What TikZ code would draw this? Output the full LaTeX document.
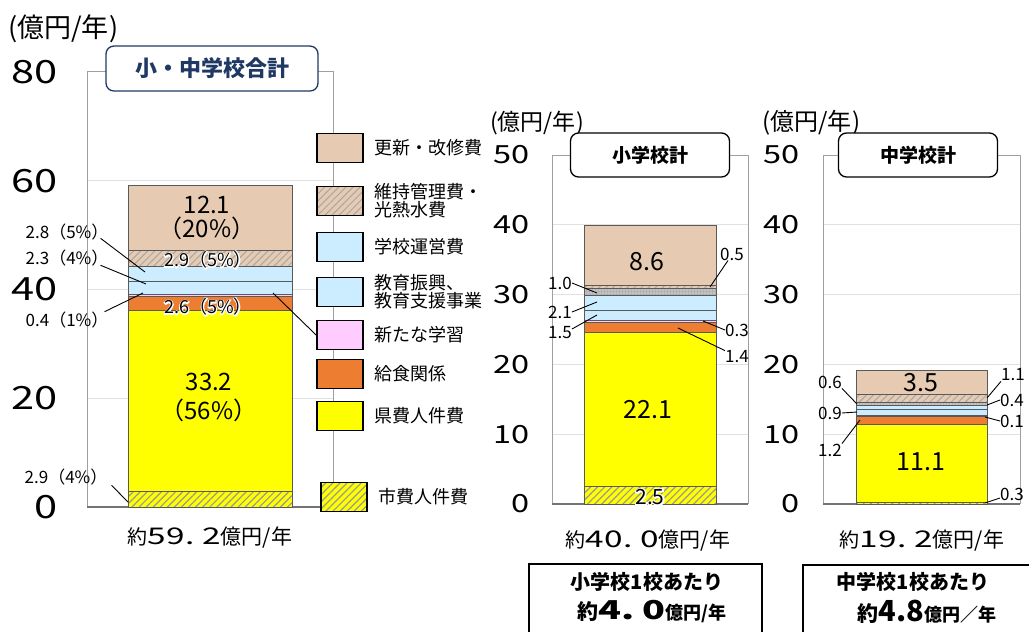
\documentclass[tikz,border=0pt]{standalone}
\usepackage{fontspec}
\setmainfont{Noto Sans CJK JP}
\newfontfamily\tickfont[FakeStretch=1.3]{Noto Sans CJK JP}
\newfontfamily\widefont[FakeStretch=1.45]{Noto Sans CJK JP}
\newfontfamily\halofont[FakeBold=12]{Noto Sans CJK JP}
\usetikzlibrary{positioning,patterns.meta}
\newcommand{\fsz}[1]{\fontsize{#1}{#1}\selectfont}
\newcommand{\halotxt}[1]{\leavevmode\rlap{\halofont\color{white}#1}#1}
\newcommand{\total}[3]{{\fsz{20}約}{\widefont\fsz{23}#1.\hspace{8pt}#2}{\fsz{21}#3}}
\newcommand{\unitlbl}{(億円/年\kern1pt)}
\definecolor{navyT}{RGB}{31,56,100}
\definecolor{tanC}{RGB}{230,202,178}
\definecolor{blueC}{RGB}{204,236,255}
\definecolor{pinkC}{RGB}{255,204,255}
\definecolor{orangeC}{RGB}{237,125,49}
\definecolor{yellowC}{RGB}{255,255,0}
\definecolor{frameC}{RGB}{160,160,160}
\definecolor{gridC}{RGB}{225,225,225}
\tikzset{
	hatchTan/.style={preaction={fill=tanC}, pattern={Lines[angle=45,distance=5pt,line width=1pt]}, pattern color=black!35},
	hatchYellow/.style={preaction={fill=yellowC}, pattern={Lines[angle=45,distance=5pt,line width=1.2pt]}, pattern color=black!40},
	dotGray/.style={preaction={fill=black!30}, pattern={Dots[distance=3pt,radius=0.6pt]}, pattern color=white},
	seg/.style={draw=black!65, line width=0.6pt},
	segTan/.style={seg, fill=tanC},
	segTanHatch/.style={seg, hatchTan},
	segGray/.style={seg, dotGray},
	segBlue/.style={seg, fill=blueC},
	segPink/.style={seg, fill=pinkC},
	segOrange/.style={seg, fill=orangeC},
	segYellow/.style={seg, fill=yellowC},
	segYellowHatch/.style={seg, hatchYellow},
	gridLine/.style={gridC, line width=0.8pt},
	frameLine/.style={frameC, line width=1pt},
	baseLine/.style={black!55, line width=1.2pt},
	tickBig/.style={font=\tickfont\fsz{32}, anchor=east, inner sep=0pt},
	tickSmall/.style={font=\tickfont\fsz{25}, anchor=east, inner sep=0pt},
	unitText/.style={font=\fsz{27}, inner sep=0pt},
	titleNavy/.style={draw=navyT, text=navyT, fill=white, line width=1.3pt, rounded corners=8pt, minimum width=212pt, minimum height=45pt, font=\fsz{22}\bfseries},
	titleBlack/.style={draw, fill=white, line width=1.3pt, rounded corners=8pt, minimum width=159pt, minimum height=44pt, font=\fsz{19}\bfseries},
	legBox/.style={draw, line width=1.8pt, minimum width=46pt, minimum height=29pt, inner sep=0pt},
	legText/.style={font=\fsz{18}, align=left, inner sep=0pt, right=10pt of #1},
	valText/.style={font=\fsz{24}, align=center, inner sep=0pt},
	haloText/.style={font=\fsz{18}, inner sep=0pt},
	callText/.style={font=\fsz{17}, inner sep=0pt},
	callLine/.style={line width=0.9pt},
	boxLine/.style={line width=2pt},
}
\begin{document}
\begin{tikzpicture}[x=1pt, y=-1pt]
	\useasboundingbox (0,0) rectangle (1029,632);

	\node[unitText, anchor=west] (unitAll) at (8,29) {\unitlbl};
	\begin{scope}[shift={(0,507)}, y=5.44pt]
		\foreach \v in {20,40,60} \draw[gridLine] (87,\v) -- (333,\v);
		\draw[frameLine] (87,0) -- (87,80) -- (333,80) -- (333,0);
		\draw[baseLine] (87,0) -- (333,0);
		\foreach \v in {0,20,...,80} \node[tickBig] (tickAll\v) at (58,\v) {\v};
		\node[titleNavy] (titleAll) at (212,80.6) {小・中学校合計};
		\draw[segYellowHatch] (128,0) rectangle (292,2.9);
		\draw[segYellow] (128,2.9) rectangle (292,36.1);
		\draw[segOrange] (128,36.1) rectangle (292,38.7);
		\draw[segPink] (128,38.7) rectangle (292,39.1);
		\draw[segBlue] (128,39.1) rectangle (292,41.4);
		\draw[segBlue] (128,41.4) rectangle (292,44.2);
		\draw[segTanHatch] (128,44.2) rectangle (292,47.1);
		\draw[segTan] (128,47.1) rectangle (292,59.2);
	\end{scope}

	\node[valText] (valRenewAll) at (207,218) {12.1\\（20\%）};
	\node[haloText] (valMaintAll) at (208,260) {\halotxt{2.9（5\%）}};
	\node[haloText] (valMealAll) at (208,307) {\halotxt{2.6（5\%）}};
	\node[valText] (valPrefAll) at (209,397) {33.2\\[5pt]（56\%）};

	\node[callText] (callOpAll) at (67,232) {2.8（5\%）};
	\node[callText] (callEduAll) at (67,258) {2.3（4\%）};
	\node[callText] (callNewAll) at (67,320) {0.4（1\%）};
	\node[callText] (callCityAll) at (66,477) {2.9（4\%）};
	\coordinate (tipOpAll) at (145,272);
	\coordinate (tipEduAll) at (146,284);
	\coordinate (tipNewAll) at (143,293);
	\coordinate (tipCityAll) at (128,502);
	\coordinate (tipLegAll) at (273,293);
	\draw[callLine] ([xshift=-8pt,yshift=2pt]callOpAll.south east) -- (tipOpAll);
	\draw[callLine] ([xshift=-8pt,yshift=1pt]callEduAll.south east) -- (tipEduAll);
	\draw[callLine] ([xshift=-4pt]callNewAll.north east) -- (tipNewAll);
	\draw[callLine] ([xshift=4pt]callCityAll.south east) -- (tipCityAll);

	\node[legBox, fill=tanC] (legRenew) at (340,148) {};
	\node[legBox, hatchTan] (legMaint) at (340,201) {};
	\node[legBox, fill=blueC] (legOp) at (340,247) {};
	\node[legBox, fill=blueC] (legEdu) at (340,292) {};
	\node[legBox, fill=pinkC] (legNew) at (340,335) {};
	\node[legBox, fill=orangeC] (legMeal) at (340,374) {};
	\node[legBox, fill=yellowC] (legPref) at (340,416) {};
	\node[legBox, hatchYellow] (legCity) at (344,497) {};
	\node[legText=legRenew] (txtRenew) {更新・改修費};
	\node[legText=legMaint] (txtMaint) {維持管理費・\\光熱水費};
	\node[legText=legOp] (txtOp) {学校運営費};
	\node[legText=legEdu] (txtEdu) {教育振興、\\教育支援事業};
	\node[legText=legNew] (txtNew) {新たな学習};
	\node[legText=legMeal] (txtMeal) {給食関係};
	\node[legText=legPref] (txtPref) {県費人件費};
	\node[legText=legCity] (txtCity) {市費人件費};
	\draw[callLine] (tipLegAll) -- (legNew.west);

	\node[inner sep=0pt] (totAll) at (210,538) {\total{59}{2}{億円/年}};

	\node[unitText, font=\fsz{23}, anchor=west] (unitEle) at (490,123) {\unitlbl};
	\begin{scope}[shift={(0,504)}, y=6.98pt]
		\foreach \v in {10,20,30,40} \draw[gridLine] (552,\v) -- (748,\v);
		\draw[frameLine] (552,0) -- (552,50) -- (748,50) -- (748,0);
		\draw[baseLine] (552,0) -- (748,0);
		\foreach \v in {0,10,...,50} \node[tickSmall] (tickEle\v) at (530,\v) {\v};
		\node[titleBlack] (titleEle) at (650,50) {小学校計};
		\draw[segYellowHatch] (584,0) rectangle (716,2.5);
		\draw[segYellow] (584,2.5) rectangle (716,24.6);
		\draw[segOrange] (584,24.6) rectangle (716,26.0);
		\draw[segPink] (584,26.0) rectangle (716,26.3);
		\draw[segBlue] (584,26.3) rectangle (716,27.8);
		\draw[segBlue] (584,27.8) rectangle (716,29.9);
		\draw[segGray] (584,29.9) rectangle (716,30.9);
		\draw[segTanHatch] (584,30.9) rectangle (716,31.4);
		\draw[segTan] (584,31.4) rectangle (716,40.0);
	\end{scope}

	\node[valText, font=\fsz{25}] (valRenewEle) at (647,262) {8.6};
	\node[valText, font=\fsz{25}] (valPrefEle) at (648,410) {22.1};
	\node[haloText, font=\fsz{21}] (valCityEle) at (650,497) {\halotxt{2.5}};

	\node[callText] (callMaintEle) at (732,254) {0.5};
	\node[callText] (callGrayEle) at (560,283) {1.0};
	\node[callText] (callOpEle) at (560,312) {2.1};
	\node[callText] (callEduEle) at (560,333) {1.5};
	\node[callText] (callNewEle) at (737,330) {0.3};
	\node[callText] (callMealEle) at (737,357) {1.4};
	\coordinate (tipMaintEle) at (710,287);
	\coordinate (tipGrayEle) at (597,293);
	\coordinate (tipOpEle) at (597,302);
	\coordinate (tipEduEle) at (597,315);
	\coordinate (tipNewEle) at (703,321);
	\coordinate (tipMealEle) at (678,328);
	\draw[callLine] ([xshift=-4pt]callMaintEle.south) -- (tipMaintEle);
	\draw[callLine] (callGrayEle.east) -- (tipGrayEle);
	\draw[callLine] (callOpEle.east) -- (tipOpEle);
	\draw[callLine] ([yshift=4pt]callEduEle.east) -- (tipEduEle);
	\draw[callLine] (callNewEle.west) -- (tipNewEle);
	\draw[callLine] (callMealEle.north west) -- (tipMealEle);

	\node[inner sep=0pt] (totEle) at (648,541) {\total{40}{0}{億円/年}};
	\draw[boxLine] (529,564) rectangle (762,650);
	\node[inner sep=0pt, font=\fsz{20}\bfseries] (perEleHead) at (647,582) {小学校1校あたり};
	\node[inner sep=0pt, font=\bfseries] (perEleVal) at (652,612) {{\fsz{21}約}{\widefont\fsz{26}4.\hspace{8pt}0}{\fsz{18}億円/年}};

	\node[unitText, font=\fsz{24}, anchor=west] (unitJun) at (762,123) {\unitlbl};
	\begin{scope}[shift={(0,504)}, y=6.98pt]
		\foreach \v in {10,20,30,40} \draw[gridLine] (823,\v) -- (1020,\v);
		\draw[frameLine] (823,0) -- (823,50) -- (1020,50) -- (1020,0);
		\draw[baseLine] (823,0) -- (1020,0);
		\foreach \v in {0,10,...,50} \node[tickSmall] (tickJun\v) at (800,\v) {\v};
		\node[titleBlack] (titleJun) at (918,50) {中学校計};
		\draw[segYellowHatch] (856,0) rectangle (987,0.3);
		\draw[segYellow] (856,0.3) rectangle (987,11.4);
		\draw[segOrange] (856,11.4) rectangle (987,12.6);
		\draw[segPink] (856,12.6) rectangle (987,12.7);
		\draw[segBlue] (856,12.7) rectangle (987,13.6);
		\draw[segBlue] (856,13.6) rectangle (987,14.2);
		\draw[segGray] (856,14.2) rectangle (987,14.6);
		\draw[segTanHatch] (856,14.6) rectangle (987,15.7);
		\draw[segTan] (856,15.7) rectangle (987,19.2);
	\end{scope}

	\node[valText, font=\fsz{25}] (valRenewJun) at (921,383) {3.5};
	\node[valText, font=\fsz{25}] (valPrefJun) at (921,462) {11.1};

	\node[callText] (callOpJun) at (830,382) {0.6};
	\node[callText] (callEduJun) at (830,413) {0.9};
	\node[callText] (callMealJun) at (830,450) {1.2};
	\node[callText] (callMaintJun) at (1013,375) {1.1};
	\node[callText] (callGrayJun) at (1012,400) {0.4};
	\node[callText] (callNewJun) at (1012,421) {0.1};
	\node[callText] (callCityJun) at (1012,494) {0.3};
	\coordinate (tipOpJun) at (857,404);
	\coordinate (tipEduJun) at (857,412);
	\coordinate (tipMealJun) at (860,420);
	\coordinate (tipMaintJun) at (987,398);
	\coordinate (tipGrayJun) at (987,405);
	\coordinate (tipNewJun) at (985,417);
	\coordinate (tipCityJun) at (985,503);
	\draw[callLine] (callOpJun.south east) -- (tipOpJun);
	\draw[callLine] (callEduJun.east) -- (tipEduJun);
	\draw[callLine] (callMealJun.north east) -- (tipMealJun);
	\draw[callLine] (callMaintJun.south west) -- (tipMaintJun);
	\draw[callLine] (callGrayJun.west) -- (tipGrayJun);
	\draw[callLine] (callNewJun.west) -- (tipNewJun);
	\draw[callLine] ([yshift=-4pt]callCityJun.west) -- (tipCityJun);

	\node[inner sep=0pt] (totJun) at (922,541) {\total{19}{2}{億円/年}};
	\draw[boxLine] (803,565) rectangle (1050,650);
	\node[inner sep=0pt, font=\fsz{20}\bfseries] (perJunHead) at (913,582) {中学校1校あたり};
	\node[inner sep=0pt, font=\bfseries] (perJunVal) at (927,612) {{\fsz{21}約}{\fsz{29}4.8}{\fsz{18}億円／年}};
\end{tikzpicture}
\end{document}
